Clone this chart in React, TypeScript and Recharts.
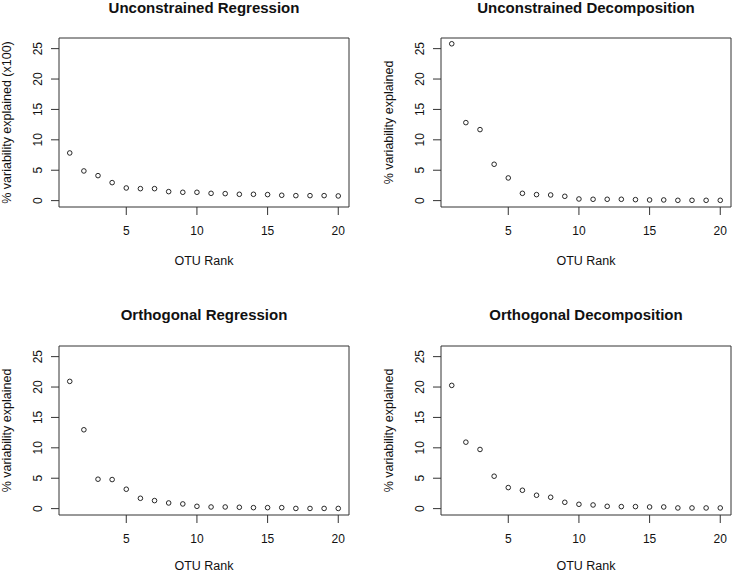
import React from 'react';
import {
  ScatterChart,
  Scatter,
  XAxis,
  YAxis,
  ReferenceArea,
} from 'recharts';

// OTU rank on the x axis (same for every panel)
const otuRank = [1, 2, 3, 4, 5, 6, 7, 8, 9, 10, 11, 12, 13, 14, 15, 16, 17, 18, 19, 20];

// % variability explained
const unconstrainedRegression = [
  7.84, 4.88, 4.11, 2.96, 2.08, 1.97, 1.97, 1.48, 1.37, 1.37,
  1.2, 1.15, 1.04, 1.04, 0.99, 0.88, 0.82, 0.82, 0.82, 0.77,
];
const unconstrainedDecomposition = [
  25.8, 12.83, 11.68, 5.98, 3.73, 1.2, 0.99, 0.93, 0.71, 0.27,
  0.22, 0.22, 0.22, 0.16, 0.11, 0.11, 0.05, 0.05, 0.05, 0.05,
];
const orthogonalRegression = [
  20.93, 12.97, 4.84, 4.78, 3.19, 1.7, 1.32, 0.93, 0.77, 0.38,
  0.27, 0.27, 0.22, 0.16, 0.16, 0.16, 0.03, 0.03, 0.03, 0.03,
];
const orthogonalDecomposition = [
  20.27, 10.93, 9.73, 5.33, 3.46, 3.02, 2.2, 1.87, 1.04, 0.71,
  0.6, 0.38, 0.33, 0.33, 0.27, 0.27, 0.11, 0.11, 0.11, 0.11,
];

const xTicks = [5, 10, 15, 20];
const yTicks = [0, 5, 10, 15, 20, 25];
const xLabel = 'OTU Rank';

const X_DOMAIN: [number, number] = [0.24, 20.76];
const Y_DOMAIN: [number, number] = [-1.05, 26.75];

const FONT = '"Liberation Sans", Arial, Helvetica, sans-serif';
const INK = '#111';
const LINE = '#333';

interface PanelProps {
  title: string;
  yLabel: string;
  values: number[];
  left: number;
  top: number;
  width: number;
  yAxisWidth: number;
  yLabelX: number;
  xLabelDy: number;
  marginTop: number;
  marginRight: number;
  marginBottom: number;
  titleTop: number;
}

function YTick(props: any) {
  const { x, y, payload } = props;
  return (
    <text
      x={x}
      y={y}
      transform={`rotate(-90 ${x} ${y})`}
      textAnchor="middle"
      dominantBaseline="central"
      fontSize={12}
      fontFamily={FONT}
      fill={INK}
    >
      {payload.value}
    </text>
  );
}

function Dot(props: any) {
  const { cx, cy } = props;
  return <circle cx={cx} cy={cy} r={2.3} fill="none" stroke="#111" strokeWidth={0.9} />;
}

function Panel(p: PanelProps) {
  const data = otuRank.map((rank, i) => ({ rank, value: p.values[i] }));
  const plotLeft = p.yAxisWidth;
  const plotRight = p.width - p.marginRight;

  return (
    <div style={{ position: 'absolute', left: p.left, top: p.top, width: p.width, height: 287 }}>
      <div
        style={{
          position: 'absolute',
          left: (plotLeft + plotRight) / 2 - 160,
          width: 320,
          top: p.titleTop,
          textAlign: 'center',
          fontFamily: FONT,
          fontWeight: 'bold',
          fontSize: 15,
          lineHeight: '17px',
          color: INK,
        }}
      >
        {p.title}
      </div>
      <ScatterChart
        width={p.width}
        height={287}
        margin={{ top: p.marginTop, right: p.marginRight, bottom: p.marginBottom, left: 0 }}
      >
        <XAxis
          type="number"
          dataKey="rank"
          domain={X_DOMAIN}
          allowDataOverflow
          ticks={xTicks}
          height={40}
          axisLine={false}
          tickSize={8}
          tickMargin={11}
          tickLine={{ stroke: LINE }}
          tick={{ fontSize: 12, fill: INK, fontFamily: FONT }}
          label={(lp: any) => {
            const vb = lp.viewBox;
            return (
              <text
                x={vb.x + vb.width / 2}
                y={vb.y + p.xLabelDy}
                textAnchor="middle"
                dominantBaseline="central"
                fontSize={12.5}
                fontFamily={FONT}
                fill={INK}
              >
                {xLabel}
              </text>
            );
          }}
        />
        <YAxis
          type="number"
          dataKey="value"
          domain={Y_DOMAIN}
          allowDataOverflow
          ticks={yTicks}
          width={p.yAxisWidth}
          axisLine={false}
          tickSize={8}
          tickMargin={13}
          tickLine={{ stroke: LINE }}
          tick={<YTick />}
          label={(lp: any) => {
            const vb = lp.viewBox;
            const cy = vb.y + vb.height / 2;
            return (
              <text
                x={p.yLabelX}
                y={cy}
                transform={`rotate(-90 ${p.yLabelX} ${cy})`}
                textAnchor="middle"
                dominantBaseline="central"
                fontSize={12.5}
                fontFamily={FONT}
                fill={INK}
              >
                {p.yLabel}
              </text>
            );
          }}
        />
        <ReferenceArea
          x1={X_DOMAIN[0]}
          x2={X_DOMAIN[1]}
          y1={Y_DOMAIN[0]}
          y2={Y_DOMAIN[1]}
          fill="none"
          stroke={LINE}
          strokeWidth={1}
          ifOverflow="visible"
        />
        <Scatter data={data} shape={<Dot />} isAnimationActive={false} />
      </ScatterChart>
    </div>
  );
}

export default function App() {
  return (
    <div
      style={{
        position: 'absolute',
        left: 0,
        top: 0,
        width: 733,
        height: 574,
        background: '#fff',
        overflow: 'hidden',
      }}
    >
      <Panel
        title="Unconstrained Regression"
        yLabel="% variability explained (x100)"
        values={unconstrainedRegression}
        left={0}
        top={0}
        width={366}
        yAxisWidth={59}
        yLabelX={7}
        xLabelDy={54}
        marginTop={38}
        marginRight={17}
        marginBottom={40}
        titleTop={-1}
      />
      <Panel
        title="Unconstrained Decomposition"
        yLabel="% variability explained"
        values={unconstrainedDecomposition}
        left={366}
        top={0}
        width={367}
        yAxisWidth={75}
        yLabelX={23}
        xLabelDy={54}
        marginTop={38}
        marginRight={2}
        marginBottom={40}
        titleTop={-1}
      />
      <Panel
        title="Orthogonal Regression"
        yLabel="% variability explained"
        values={orthogonalRegression}
        left={0}
        top={287}
        width={366}
        yAxisWidth={59}
        yLabelX={7}
        xLabelDy={51}
        marginTop={59}
        marginRight={17}
        marginBottom={19}
        titleTop={19}
      />
      <Panel
        title="Orthogonal Decomposition"
        yLabel="% variability explained"
        values={orthogonalDecomposition}
        left={366}
        top={287}
        width={367}
        yAxisWidth={75}
        yLabelX={23}
        xLabelDy={51}
        marginTop={59}
        marginRight={2}
        marginBottom={19}
        titleTop={19}
      />
    </div>
  );
}
